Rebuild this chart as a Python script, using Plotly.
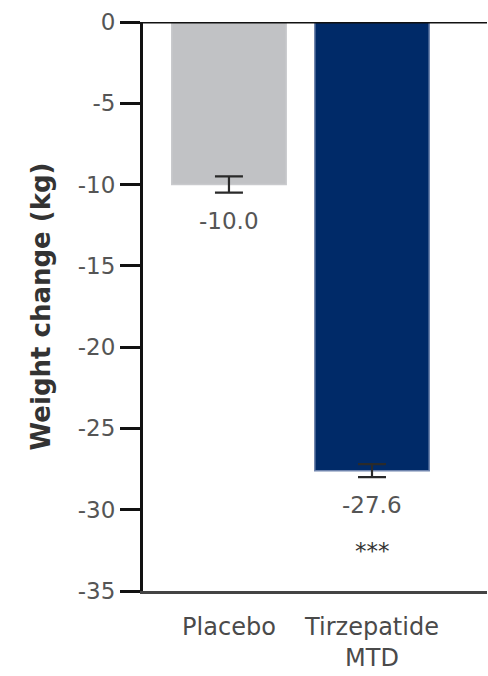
import plotly.graph_objects as go

# Mean weight change at end of treatment (kg) with SE
groups = ["Placebo", "Tirzepatide<br>MTD"]
weight_change = [-10.0, -27.6]
std_err = [0.5, 0.4]
bar_colors = ["#c1c2c5", "#002a68"]
edge_colors = ["#c9cacd", "#6f84ad"]
value_labels = ["-10.0", "-27.6"]
significance = ["", "***"]

y_ticks = [0, -5, -10, -15, -20, -25, -30, -35]
y_tick_text = ["0", "-5", "-10", "-15", "-20", "-25", "-30", "-35"]

FONT = "DejaVu Sans, Liberation Sans, Arial, sans-serif"

fig = go.Figure()
fig.add_trace(go.Bar(
    x=groups,
    y=weight_change,
    width=0.8,
    marker=dict(color=bar_colors, line=dict(color=edge_colors, width=1.5)),
    error_y=dict(type="data", array=std_err, visible=True,
                 color="#2a2a2a", thickness=2.2, width=14),
    showlegend=False,
))

value_font = dict(family=FONT, size=23, color="#555555")

for g, v, e, lab, sig in zip(groups, weight_change, std_err, value_labels, significance):
    fig.add_annotation(x=g, y=v - e, text=lab, showarrow=False,
                       yanchor="middle", yshift=-28, font=value_font)
    if sig:
        fig.add_annotation(x=g, y=v - e, text=sig, showarrow=False,
                           yanchor="middle", yshift=-74,
                           font=dict(family=FONT, size=23, color="#333333"))

# x axis line at zero (top edge of the plot)
fig.add_shape(type="line", xref="paper", yref="y", x0=0, x1=1, y0=0, y1=0,
              line=dict(color="#111111", width=3), layer="above")

fig.update_layout(
    width=488, height=676,
    margin=dict(l=143, r=1, t=22, b=85),
    paper_bgcolor="white", plot_bgcolor="white",
    bargap=0.2,
    font=dict(family=FONT),
)

fig.update_xaxes(
    range=[-0.601, 1.804],
    showline=True, linecolor="#444444", linewidth=2.5,
    ticks="outside", ticklen=12, tickcolor="rgba(0,0,0,0)",
    tickfont=dict(family=FONT, size=24, color="#4a4a4a"),
    showgrid=False, zeroline=False,
)

fig.update_yaxes(
    range=[-35, 0],
    tickvals=y_ticks, ticktext=y_tick_text,
    showline=True, linecolor="#111111", linewidth=3,
    ticks="outside", ticklen=20, tickwidth=3, tickcolor="#111111",
    tickfont=dict(family=FONT, size=23, color="#555555"),
    showgrid=False, zeroline=False,
    title=dict(text="<b>Weight change (kg)</b>", standoff=20,
               font=dict(family=FONT, size=26, color="#333333")),
)

fig.write_html("out.html")
